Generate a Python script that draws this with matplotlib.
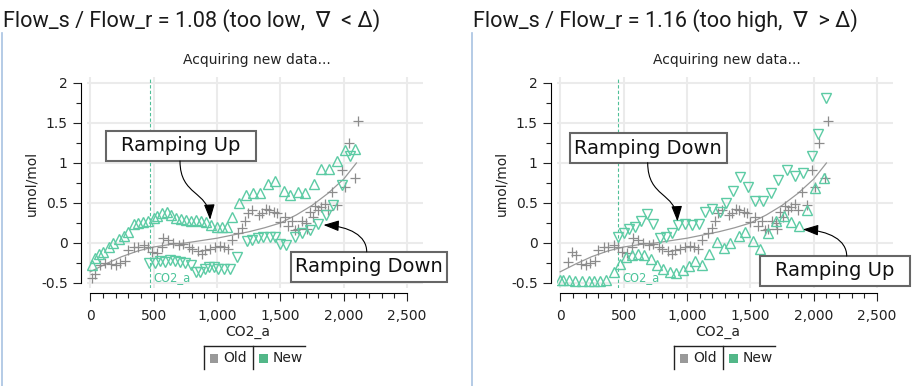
import numpy as np
import matplotlib
matplotlib.use("Agg")
import matplotlib.pyplot as plt
import matplotlib.ticker as ticker
from matplotlib.patches import Rectangle, FancyArrowPatch
from matplotlib.lines import Line2D
from matplotlib.path import Path
from matplotlib.transforms import IdentityTransform

# ---- values ----
old_x = [13, 39, 79, 118, 166, 202, 237, 271, 297, 342, 381, 421, 460, 486, 526, 566, 578, 612,
         657, 697, 736, 776, 807, 850, 881, 907, 946, 986, 1025, 1059, 1085, 1120, 1167, 1195,
         1222, 1248, 1280, 1328, 1354, 1386, 1412, 1446, 1472, 1500, 1537, 1563, 1590, 1616,
         1642, 1669, 1701, 1709, 1735, 1761, 1775, 1795, 1822, 1853, 1874, 1911, 1950, 1985,
         2011, 2045, 2085, 2111]
old_y = [-0.44, -0.39, -0.275, -0.25, -0.26, -0.275, -0.25, -0.22, -0.09, -0.05, -0.05, -0.03,
         -0.05, -0.11, -0.13, -0.05, 0.066, 0.04, 0.0, -0.025, -0.01, -0.05, -0.07, -0.1, -0.14,
         -0.09, -0.07, -0.05, -0.04, -0.05, -0.07, 0.04, 0.125, 0.19, 0.27, 0.375, 0.41, 0.35,
         0.37, 0.43, 0.41, 0.39, 0.37, 0.26, 0.32, 0.21, 0.27, 0.16, 0.18, 0.27, 0.25, 0.18,
         0.39, 0.33, 0.46, 0.41, 0.45, 0.49, 0.41, 0.64, 0.47, 0.91, 0.70, 1.25, 0.81, 1.53]
# second run: same old points except the first few
old_x_high = [60, 92, 124] + old_x[4:]
old_y_high = [-0.24, -0.11, -0.15] + old_y[4:]

fit_x = [0, 125, 250, 375, 500, 625, 750, 875, 1000, 1125, 1250, 1375, 1500, 1625, 1750,
         1875, 2000, 2100]
fit_y = [-0.36, -0.26, -0.17, -0.1, -0.05, -0.02, 0.0, 0.03, 0.06, 0.1, 0.14, 0.19, 0.25,
         0.35, 0.47, 0.62, 0.8, 1.0]

# ratio 1.08 (too low)
up_x_low = [13, 39, 71, 105, 145, 184, 224, 263, 302, 342, 381, 413, 455, 500, 526, 566, 605,
            639, 675, 717, 754, 796, 833, 875, 912, 954, 999, 1038, 1078, 1122, 1175, 1228,
            1288, 1341, 1406, 1459, 1525, 1578, 1638, 1696, 1762, 1822, 1885, 1945, 2011, 2085]
up_y_low = [-0.275, -0.19, -0.14, -0.11, -0.05, 0.0, 0.047, 0.09, 0.14, 0.237, 0.254, 0.266,
            0.279, 0.309, 0.337, 0.38, 0.392, 0.35, 0.309, 0.296, 0.29, 0.279, 0.29, 0.279,
            0.266, 0.225, 0.204, 0.196, 0.196, 0.33, 0.5, 0.6, 0.62, 0.63, 0.74, 0.78, 0.65,
            0.6, 0.64, 0.63, 0.74, 0.92, 0.93, 1.02, 1.16, 1.17]
dn_x_low = [465, 512, 552, 591, 631, 670, 710, 749, 796, 833, 867, 902, 939, 973, 1012, 1059,
            1104, 1157, 1236, 1275, 1322, 1367, 1420, 1454, 1498, 1543, 1616, 1674, 1735, 1795,
            1858, 1919, 1985, 2051]
dn_y_low = [-0.25, -0.25, -0.23, -0.24, -0.21, -0.23, -0.24, -0.25, -0.275, -0.36, -0.36,
            -0.33, -0.3, -0.3, -0.32, -0.32, -0.32, -0.17, 0.02, 0.04, 0.06, 0.07, 0.08, 0.07,
            -0.01, -0.02, 0.07, 0.13, 0.16, 0.24, 0.35, 0.47, 0.72, 1.09]

# ratio 1.16 (too high)
up_x_high = [0, 26, 66, 118, 171, 224, 268, 315, 363, 421, 473, 520, 566, 610, 658, 715, 763,
             810, 868, 916, 968, 1013, 1066, 1118, 1171, 1237, 1290, 1342, 1408, 1461, 1521,
             1579, 1637, 1705, 1763, 1821, 1881, 1947, 2013, 2084]
up_y_high = [-0.46, -0.46, -0.46, -0.47, -0.47, -0.47, -0.47, -0.47, -0.46, -0.36, -0.26,
             -0.17, -0.15, -0.14, -0.15, -0.2, -0.27, -0.33, -0.36, -0.38, -0.34, -0.29, -0.23,
             -0.27, -0.14, 0.01, -0.06, 0.0, 0.09, 0.14, 0.03, -0.07, 0.13, 0.27, 0.34, 0.26,
             0.21, 0.41, 0.69, 0.81]
dn_x_high = [455, 500, 539, 592, 636, 684, 736, 789, 836, 881, 933, 986, 1038, 1091, 1144,
             1196, 1257, 1309, 1362, 1420, 1485, 1538, 1598, 1661, 1721, 1787, 1853, 1913,
             1984, 2037, 2098]
dn_y_high = [0.08, 0.12, 0.17, 0.2, 0.27, 0.36, 0.24, 0.06, 0.08, 0.12, 0.23, 0.24, 0.23, 0.24,
             0.39, 0.43, 0.39, 0.5, 0.65, 0.82, 0.7, 0.52, 0.52, 0.62, 0.79, 0.91, 0.84, 0.88,
             1.09, 1.36, 1.81]

co2_low, co2_high = 468, 460
x_ticks = [0, 500, 1000, 1500, 2000, 2500]
y_ticks = [-0.5, 0, 0.5, 1, 1.5, 2]

W, H = 919, 386
TEAL = "#5ccba4"
GRAY = "#8c8c8c"
plt.rcParams["font.family"] = ["DejaVu Sans"]

fig = plt.figure(figsize=(W / 100, H / 100), dpi=100)


def px_line(xs, ys, **kw):
    fig.add_artist(Line2D(xs, [H - y for y in ys], transform=IdentityTransform(), **kw))


def px_box(x0, y0, x1, y1, text):
    fig.add_artist(Rectangle((x0, H - y1), x1 - x0, y1 - y0, transform=IdentityTransform(),
                             facecolor="white", edgecolor="#666666", lw=1.5, zorder=3))
    fig.text((x0 + x1) / 2 / W, 1 - (y0 + y1) / 2 / H, text, ha="center", va="center",
             fontsize=14, color="#111111", zorder=4)


def curved_arrow(ax, start, tip, kind):
    x0, y0 = start[0], H - start[1]
    x3, y3 = ax.transData.transform(tip)
    if kind == "S":
        p1 = (x0, y0 - 0.6 * (y0 - y3))
        p2 = (x3 - 0.05 * (x3 - x0), y3 + 0.5 * (y0 - y3))
    else:
        p1 = (x0, y0 + 0.6 * (y3 - y0))
        p2 = (x0 + 0.4 * (x3 - x0), y3 - 0.05 * (y3 - y0))
    path = Path([(x0, y0), p1, p2, (x3, y3)],
                [Path.MOVETO, Path.CURVE4, Path.CURVE4, Path.CURVE4])
    fig.add_artist(FancyArrowPatch(path=path, arrowstyle="-|>,head_length=0.94,head_width=0.33",
                                   mutation_scale=10, color="black", lw=0.8,
                                   transform=IdentityTransform(), zorder=3))


panels = [
    dict(off=0, title="Flow_s / Flow_r = 1.08 (too low,  \u2207  < \u0394)",
         old=(old_x, old_y), up=(up_x_low, up_y_low), dn=(dn_x_low, dn_y_low), co2=co2_low,
         notes=[("Ramping Up", (105.7, 130.7, 256, 160.7), (180, 161), (946, 0.29), "S"),
                ("Ramping Down", (290.7, 251.7, 446.7, 281.7), (366.7, 251.7), (1840, 0.225), "L")]),
    dict(off=470, title="Flow_s / Flow_r = 1.16 (too high,  \u2207  > \u0394)",
         old=(old_x_high, old_y_high), up=(up_x_high, up_y_high), dn=(dn_x_high, dn_y_high),
         co2=co2_high,
         notes=[("Ramping Down", (570, 133.3, 726.7, 162.7), (647.7, 162.7), (925, 0.27), "S"),
                ("Ramping Up", (760, 256, 910, 286), (846.7, 256), (1914, 0.17), "L")]),
]

for p in panels:
    off = p["off"]
    ax = fig.add_axes([(87 + off) / W, 1 - 288 / H, 336 / W, 211 / H])
    ax.set_xlim(-25, 2625)
    ax.set_ylim(-0.5625, 2.075)
    ax.patch.set_alpha(0)

    ax.grid(True, color="#ebebeb", lw=1.5)
    ax.set_axisbelow(True)
    for s in ["top", "right"]:
        ax.spines[s].set_visible(False)
    ax.spines["left"].set_position(("outward", 4.1))
    ax.spines["bottom"].set_position(("outward", 3.4))
    ax.spines["left"].set_bounds(-0.5, 2)
    ax.spines["bottom"].set_bounds(0, 2500)
    ax.xaxis.set_major_locator(ticker.FixedLocator(x_ticks))
    ax.xaxis.set_minor_locator(ticker.FixedLocator(np.arange(0, 2501, 100)))
    ax.yaxis.set_major_locator(ticker.FixedLocator(y_ticks))
    ax.yaxis.set_minor_locator(ticker.FixedLocator(np.arange(-0.5, 2.01, 0.25)))
    ax.xaxis.set_major_formatter(ticker.FuncFormatter(lambda v, pos: f"{v:,.0f}"))
    ax.yaxis.set_major_formatter(ticker.FuncFormatter(lambda v, pos: f"{v:g}"))
    ax.tick_params(which="major", length=5.8, width=0.8, labelsize=10, colors="#222222")
    ax.tick_params(which="minor", length=3.6, width=0.8, colors="#222222")
    ax.tick_params(axis="y", which="major", pad=4)
    ax.tick_params(axis="x", which="major", pad=6)

    ax.plot(fit_x, fit_y, color="#999999", lw=0.9, zorder=2)
    ax.plot(*p["old"], ls="none", marker="+", ms=7, mew=0.9, color=GRAY, zorder=3)
    ax.plot(*p["up"], ls="none", marker="^", ms=6.5, mew=1.0, mfc="none", mec=TEAL, zorder=4)
    ax.plot(*p["dn"], ls="none", marker="v", ms=6.5, mew=1.0, mfc="none", mec=TEAL, zorder=4)

    ax.axvline(p["co2"], color="#4fbf97", lw=0.8, ls=(0, (3, 2)), zorder=2)
    ax.annotate("CO2_a", xy=(p["co2"], -0.43), xytext=(2.5, 0), textcoords="offset points",
                ha="left", va="center", fontsize=8.3, color="#4cc49a")

    fig.text((3 + off) / W, 1 - 26.7 / H, p["title"], ha="left", va="baseline",
             fontsize=15.6, family=["Roboto", "DejaVu Sans"], color="#1a1a1a")
    fig.text((257 + off) / W, 1 - 60 / H, "Acquiring new data...", ha="center", va="center",
             fontsize=10, color="#222222")
    fig.text((248 + off) / W, 1 - 331.7 / H, "CO2_a", ha="center", va="center", fontsize=10,
             color="#222222")
    fig.text((31.7 + off) / W, 1 - 183 / H, "umol/mol", ha="center", va="center", fontsize=10,
             rotation=90, color="#222222")

    # panel border on the left
    px_line([1.5 + off, 1.5 + off], [33, H], color="#a8c2e2", lw=1.2)

    # legend strip
    px_line([204 + off, 305 + off], [346, 346], color="#222222", lw=1)
    px_line([204 + off, 204 + off], [346, 369], color="#222222", lw=1)
    px_line([252.7 + off, 252.7 + off], [346, 369], color="#222222", lw=1)
    for sx, col, lab, tx in [(210, "#999999", "Old", 223), (259.3, "#52b788", "New", 273)]:
        fig.add_artist(Rectangle((sx + off, H - 362.7), 8.3, 8.3, transform=IdentityTransform(),
                                 facecolor=col, edgecolor="none"))
        fig.text((tx + off) / W, 1 - 358.5 / H, lab, ha="left", va="center", fontsize=10,
                 color="#222222")

    for text, box, start, tip, kind in p["notes"]:
        px_box(*box, text)
        curved_arrow(ax, start, tip, kind)

fig.savefig("out.png", dpi=100)
